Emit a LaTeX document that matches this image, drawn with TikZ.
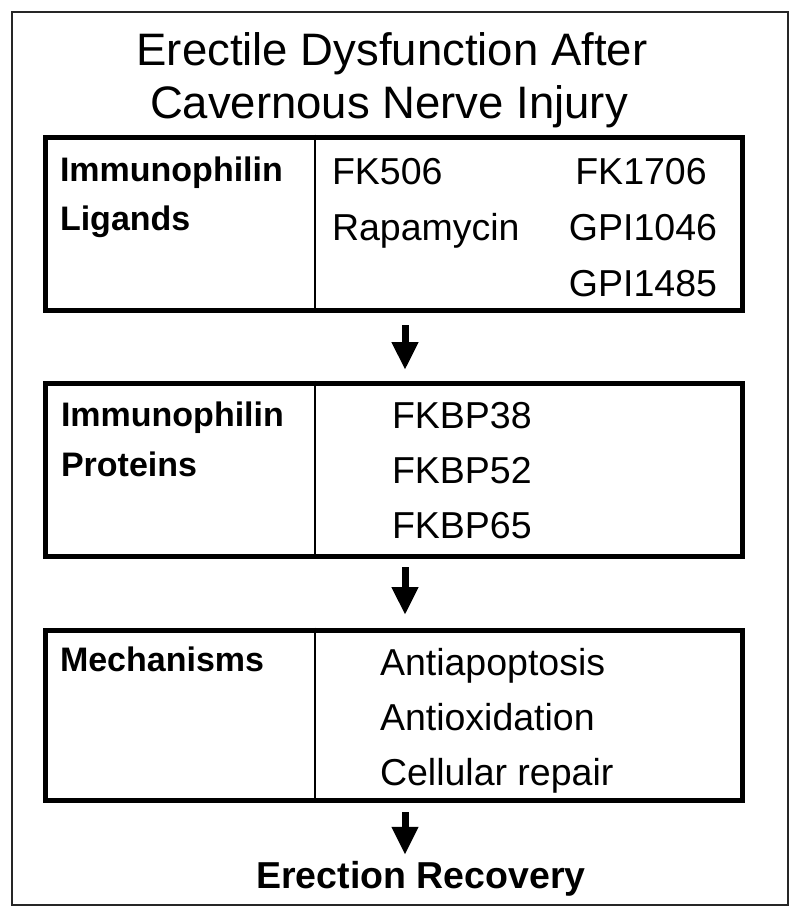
\documentclass[tikz,border=0pt]{standalone}
\usepackage{fontspec}
\setmainfont{Liberation Sans}
\usetikzlibrary{arrows.meta}

\begin{document}
\begin{tikzpicture}[x=1pt,y=-1pt,
 every node/.style={inner sep=0pt,outer sep=0pt},
 ttl/.style={font=\fontsize{45.5}{53}\selectfont,anchor=base},
 lbl/.style={font=\fontsize{34}{40}\selectfont\bfseries,anchor=base west},
 itm/.style={font=\fontsize{37.5}{44}\selectfont,anchor=base west},
 itmc/.style={font=\fontsize{37.5}{44}\selectfont,anchor=base},
 blk/.style={draw,line width=5pt,minimum width=697pt,outer sep=2.5pt},
 div/.style={line width=2pt},
 arr/.style={-{Triangle[width=25pt,length=28pt]},line width=7pt}]
\useasboundingbox (0,0) rectangle (800,918);
\node[draw=black!85,line width=2pt,minimum width=776pt,minimum height=893pt] (frame) at (400,458.5) {};
% title
\node[ttl] (t1) at (392,65) {Erectile Dysfunction After};
\node[ttl] (t2) at (389,118) {Cavernous Nerve Injury};
% three blocks
\node[blk,minimum height=173pt] (lig) at (393.5,223.5) {};
\node[blk,minimum height=173pt] (prot) at (393.5,469.5) {};
\node[blk,minimum height=170pt] (mech) at (393.5,715) {};
\coordinate (d) at (315,0);
\draw[div] (lig.north -| d) -- (lig.south -| d);
\draw[div] (prot.north -| d) -- (prot.south -| d);
\draw[div] (mech.north -| d) -- (mech.south -| d);
% ligands
\node[lbl] (ligl1) at (60,181) {Immunophilin};
\node[lbl] (ligl2) at (60,230) {Ligands};
\node[itm] (fk506) at (332,184) {FK506};
\node[itm] (rapa) at (332,240) {Rapamycin};
\node[itmc] (fk1706) at (641,184) {FK1706};
\node[itmc] (gpi1046) at (643,240) {GPI1046};
\node[itmc] (gpi1485) at (643,296) {GPI1485};
% proteins
\node[lbl] (protl1) at (61,426) {Immunophilin};
\node[lbl] (protl2) at (61,476) {Proteins};
\node[itm] (fkbp38) at (392,428) {FKBP38};
\node[itm] (fkbp52) at (392,483) {FKBP52};
\node[itm] (fkbp65) at (392,538) {FKBP65};
% mechanisms
\node[lbl] (mechl) at (60,671) {Mechanisms};
\node[itm] (apop) at (380,675) {Antiapoptosis};
\node[itm] (oxid) at (380,730) {Antioxidation};
\node[itm] (repair) at (380,785) {Cellular repair};
\node[font=\fontsize{37.5}{44}\selectfont\bfseries,anchor=base] (rec) at (421,888) {Erection Recovery};
% arrows
\coordinate (ax) at (405,0);
\draw[arr,shorten <=12.5pt,shorten >=10.5pt] (lig.south -| ax) -- (prot.north -| ax);
\draw[arr,shorten <=8.5pt,shorten >=12.5pt] (prot.south -| ax) -- (mech.north -| ax);
\draw[arr,shorten <=9.5pt,shorten >=6pt] (mech.south -| ax) -- (rec.north -| ax);
\end{tikzpicture}
\end{document}
